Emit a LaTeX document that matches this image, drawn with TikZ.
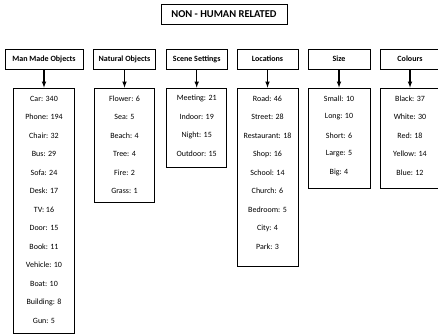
\documentclass[tikz,border=0pt]{standalone}
\usepackage{fontspec}
\setmainfont{Carlito}

\begin{document}
\begin{tikzpicture}[x=1pt,y=-1pt,
    title/.style={rectangle,draw,line width=0.8pt,minimum width=126pt,minimum height=20pt,inner sep=1pt,font=\fontsize{10.5}{12}\selectfont\bfseries},
    header/.style={rectangle,draw,line width=0.8pt,minimum height=20pt,inner sep=1pt,font=\fontsize{8}{9.6}\selectfont\bfseries},
    listbox/.style={rectangle,draw,line width=0.8pt,inner sep=0pt},
    item/.style={inner sep=0pt,font=\fontsize{8}{9.6}\selectfont},
    arrow/.style={-latex,line width=1.1pt}]

\useasboundingbox (0,0) rectangle (438,335);

% Title
\node[title] (top) at (224,14) {NON - HUMAN RELATED};

% Category headers
\node[header,minimum width=78pt] (mm) at (44,59) {Man Made Objects};
\node[header,minimum width=62pt] (nat) at (124.5,59) {Natural Objects};
\node[header,minimum width=61pt] (scene) at (196.7,59) {Scene Settings};
\node[header,minimum width=61pt] (loc) at (267.5,59) {Locations};
\node[header,minimum width=62pt] (size) at (339,59) {Size};
\node[header,minimum width=60pt] (col) at (410,59) {Colours};

% List boxes
\node[listbox,minimum width=61pt,minimum height=245pt] (mmlist) at (44,210.5) {};
\node[listbox,minimum width=60pt,minimum height=114pt] (natlist) at (124.5,145) {};
\node[listbox,minimum width=60pt,minimum height=79pt] (scenelist) at (196.7,127.5) {};
\node[listbox,minimum width=61pt,minimum height=178pt] (loclist) at (267.5,177) {};
\node[listbox,minimum width=62pt,minimum height=100pt] (sizelist) at (339,138) {};
\node[listbox,minimum width=60pt,minimum height=100pt] (collist) at (410,138) {};

% Items
\foreach \t [count=\i from 0] in {Car: 340,Phone: 194,Chair: 32,Bus: 29,Sofa: 24,Desk: 17,TV: 16,Door: 15,Book: 11,Vehicle: 10,Boat: 10,Building: 8,Gun: 5}
    \node[item] (mm-\i) at (44,98.5+18.5*\i) {\t};
\foreach \t [count=\i from 0] in {Flower: 6,Sea: 5,Beach: 4,Tree: 4,Fire: 2,Grass: 1}
    \node[item] (nat-\i) at (124.5,98.5+18.5*\i) {\t};
\foreach \t [count=\i from 0] in {Meeting: 21,Indoor: 19,Night: 15,Outdoor: 15}
    \node[item] (scene-\i) at (196.7,98.5+18.5*\i) {\t};
\foreach \t [count=\i from 0] in {Road: 46,Street: 28,Restaurant: 18,Shop: 16,School: 14,Church: 6,Bedroom: 5,City: 4,Park: 3}
    \node[item] (loc-\i) at (267.5,98.5+18.5*\i) {\t};
\foreach \t [count=\i from 0] in {Small: 10,Long: 10,Short: 6,Large: 5,Big: 4}
    \node[item] (size-\i) at (339,98.5+18.5*\i) {\t};
\foreach \t [count=\i from 0] in {Black: 37,White: 30,Red: 18,Yellow: 14,Blue: 12}
    \node[item] (col-\i) at (410,98.5+18.5*\i) {\t};

% Arrows
\draw[arrow] (mm) -- (mmlist);
\draw[arrow] (nat) -- (natlist);
\draw[arrow] (scene) -- (scenelist);
\draw[arrow] (loc) -- (loclist);
\draw[arrow] (size) -- (sizelist);
\draw[arrow] (col) -- (collist);

\end{tikzpicture}
\end{document}
